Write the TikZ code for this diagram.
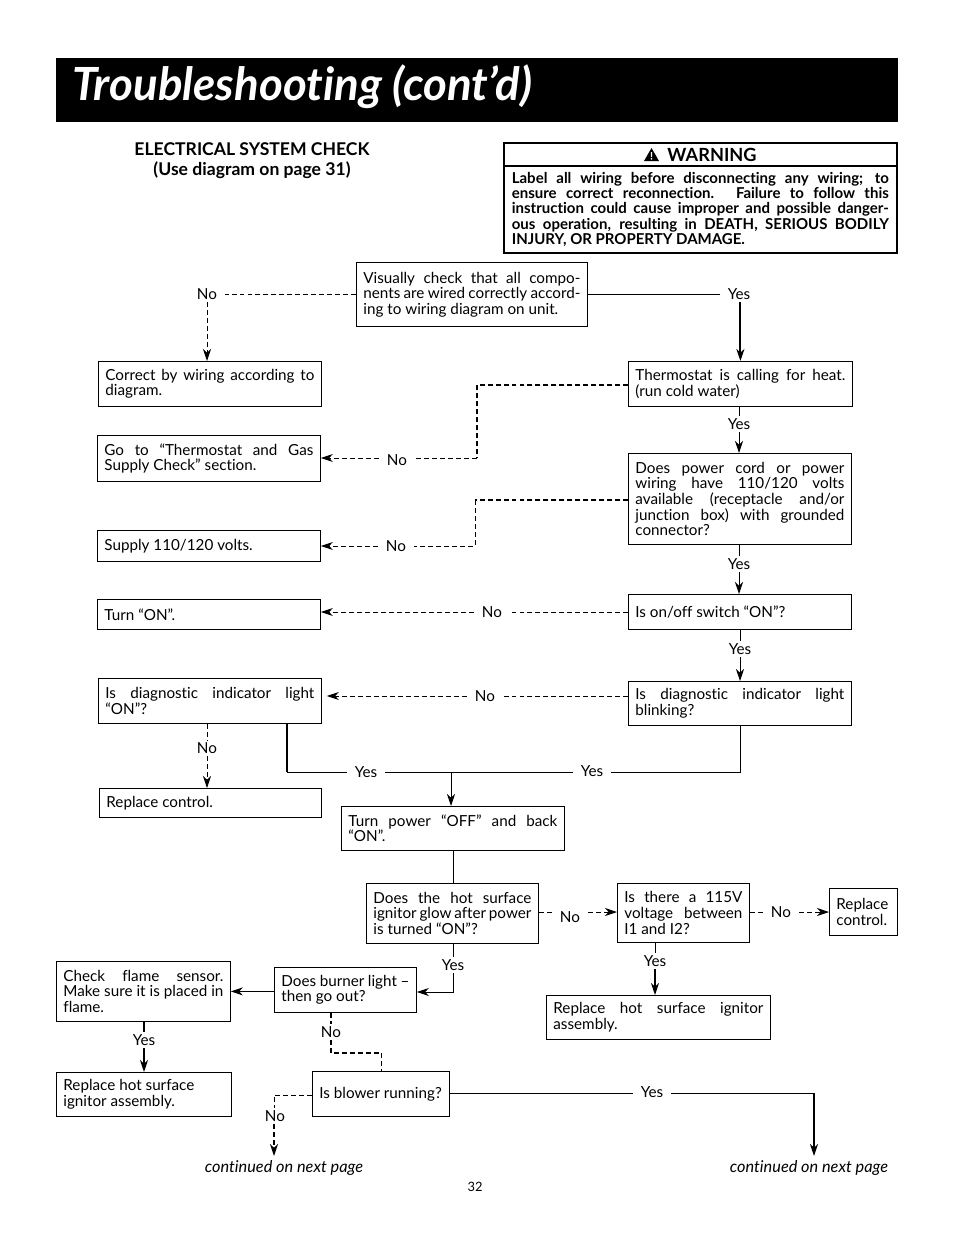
\documentclass[tikz,border=0pt]{standalone}
\usepackage{fontspec}
\setmainfont[Ligatures=NoCommon]{Lato}
\usetikzlibrary{arrows.meta,calc,positioning}
\tikzset{
	flowbox/.style 2 args={draw,line width=0.7pt,anchor=north west,inner xsep=0.21cm,inner ysep=0pt,
		text width=(#1-14)*0.03cm,minimum height=#2*0.03cm,align=justify,font=\fontsize{13}{13.3}\selectfont},
	lab/.style={inner xsep=0.24cm,inner ysep=2pt,font=\fontsize{13}{13.3}\selectfont},
	note/.style={inner sep=0pt,font=\fontsize{13.9}{15}\selectfont\itshape},
	thinline/.style={line width=0.7pt},
	thickline/.style={line width=1.7pt},
	dashline/.style={line width=0.7pt,dash pattern=on 4.2pt off 2.6pt},
	thickdash/.style={line width=1.4pt,dash pattern=on 4.2pt off 2.6pt},
	tip/.style={-{Stealth[length=3.6mm,width=2.4mm,inset=1.1mm]}}
}
\begin{document}
\begin{tikzpicture}[x=0.03cm,y=-0.03cm]
	\useasboundingbox (0,0) rectangle (954,1235);
	% header
	\node (banner) [fill=black,anchor=north west,minimum width=842*0.03cm,minimum height=64*0.03cm,inner sep=0pt] at (56,58) {};
	\node (title) [text=white,anchor=west,inner sep=0pt,font=\fontsize{39}{42}\selectfont\bfseries\itshape] at (72,87) {Troubleshooting (cont’d)};
	\node (heading) [align=center,inner sep=0pt,font=\fontsize{15}{17}\selectfont\bfseries] at (252,160.5) {ELECTRICAL SYSTEM CHECK\\(Use diagram on page 31)};
	% warning
	\node (warnhead) [draw,line width=1.4pt,anchor=north west,minimum width=393*0.03cm,minimum height=23*0.03cm,inner sep=0pt] at (503,142) {};
	\node (warning) [inner sep=0pt,font=\fontsize{15.5}{16}\selectfont\bfseries] at (712,155) {WARNING};
	\fill (644,161) -- (651.5,148) -- (659,161) -- cycle;
	\fill[white] (650.8,152) rectangle (652.2,157) (650.8,158) rectangle (652.2,159.5);
	\node (warnbody) [draw,line width=1.4pt,anchor=north west,text width=377*0.03cm,minimum height=87*0.03cm,inner xsep=0.24cm,inner ysep=0pt,align=justify,font=\fontsize{12.8}{13}\selectfont\bfseries] at (503,165) {Label all wiring before disconnecting any wiring; to\linebreak ensure correct reconnection. Failure to follow this\linebreak instruction could cause improper and possible danger-\linebreak ous operation, resulting in DEATH, SERIOUS BODILY\linebreak INJURY, OR PROPERTY DAMAGE.};
	% boxes
	\node (check) [flowbox={231}{64}] at (356,262) {Visually check that all compo-\linebreak nents are wired correctly accord-\linebreak ing to wiring diagram on unit.};
	\node (correct) [flowbox={223}{45}] at (98,361) {Correct by wiring according to\linebreak diagram.};
	\node (thermostat) [flowbox={224}{45}] at (628,361) {Thermostat is calling for heat.\linebreak (run cold water)};
	\node (gas) [flowbox={223}{46}] at (97,435) {Go to “Thermostat and Gas\linebreak Supply Check” section.};
	\node (power) [flowbox={223}{91}] at (628,453) {Does power cord or power\linebreak wiring have 110/120 volts\linebreak available (receptacle and/or\linebreak junction box) with grounded\linebreak connector?};
	\node (supply) [flowbox={223}{31}] at (97,530) {Supply 110/120 volts.};
	\node (turnon) [flowbox={223}{30}] at (97,599) {Turn “ON”.};
	\node (switch) [flowbox={223}{35}] at (628,594) {Is on/off switch “ON”?};
	\node (indicator) [flowbox={223}{45}] at (98,678) {Is diagnostic indicator light\linebreak “ON”?};
	\node (blinking) [flowbox={223}{44}] at (628,681) {Is diagnostic indicator light\linebreak blinking?};
	\node (replace) [flowbox={222}{29}] at (99,788) {Replace control.};
	\node (turnpower) [flowbox={223}{44}] at (341,806) {Turn power “OFF” and back\linebreak “ON”.};
	\node (glow) [flowbox={172}{60}] at (366,883) {Does the hot surface\linebreak ignitor glow after power\linebreak is turned “ON”?};
	\node (voltage) [flowbox={132}{59}] at (617,883) {Is there a 115V\linebreak voltage between\linebreak I1 and I2?};
	\node (control) [flowbox={68}{47}] at (829,888) {Replace\linebreak control.};
	\node (flame) [flowbox={174}{60}] at (56,961) {Check flame sensor.\linebreak Make sure it is placed in\linebreak flame.};
	\node (burner) [flowbox={142}{45}] at (274,967) {Does burner light –\\then go out?};
	\node (hotsurface) [flowbox={224}{44}] at (546,995) {Replace hot surface ignitor\linebreak assembly.};
	\node (ignitor) [flowbox={175}{44}] at (56,1072) {Replace hot surface\\ignitor assembly.};
	\node (blower) [flowbox={137}{45}] at (312,1071) {Is blower running?};
	% labels
	\node (no1) [lab] at (207,294) {No};
	\node (yes1) [lab] at (739,294) {Yes};
	\node (yes2) [lab] at (739,424) {Yes};
	\node (no2) [lab] at (397,460) {No};
	\node (no3) [lab] at (396,546) {No};
	\node (yes3) [lab] at (739,564) {Yes};
	\node (no4) [lab] at (492,612) {No};
	\node (yes4) [lab] at (740,649) {Yes};
	\node (no5) [lab] at (485,696) {No};
	\node (no6) [lab] at (207,748) {No};
	\node (yes5) [lab] at (366,772) {Yes};
	\node (yes6) [lab] at (592,771) {Yes};
	\node (no7) [lab] at (570,917) {No};
	\node (no8) [lab] at (781,912) {No};
	\node (yes7) [lab] at (453,965) {Yes};
	\node (yes8) [lab] at (655,961) {Yes};
	\node (yes9) [lab] at (144,1040) {Yes};
	\node (no9) [lab] at (331,1032) {No};
	\node (no10) [lab] at (275,1116) {No};
	\node (yes10) [lab] at (652,1092) {Yes};
	\node (next1) [note] at (284,1168) {continued on next page};
	\node (next2) [note] at (809,1168) {continued on next page};
	\node (pagenum) [inner sep=0pt,font=\fontsize{11}{13}\selectfont] at (475,1187) {32};
	% elbows
	\coordinate (bendA) at (477,385);
	\coordinate (bendB) at (477,458);
	\coordinate (bendC) at (475,500);
	\coordinate (bendD) at (475,546);
	\coordinate (joinL) at (287,772);
	\coordinate (joinM) at (451,772);
	\coordinate (joinR) at (740,772);
	\coordinate (arrowV) at (617,912);
	\coordinate (bendE) at (453,992);
	\coordinate (bendF) at (331,1053);
	\coordinate (bendG) at (381,1053);
	\coordinate (bendH) at (274,1095);
	\coordinate (bendI) at (814,1093);
	\coordinate (endL) at (274,1156);
	\coordinate (endR) at (814,1156);
	% top
	\draw[dashline] (check.west |- no1) -- (no1);
	\draw[dashline,tip] (no1) -- (no1 |- correct.north);
	\draw[thinline] (check.east |- yes1) -- (yes1);
	\draw[thickline,tip] (thermostat.north |- yes1.south) -- (thermostat.north);
	% right column
	\draw[thinline] (yes2 |- thermostat.south) -- (yes2);
	\draw[thinline,tip] (yes2) -- (yes2 |- power.north);
	\draw[thinline] (yes3 |- power.south) -- (yes3);
	\draw[thinline,tip] (yes3) -- (yes3 |- switch.north);
	\draw[thinline] (yes4 |- switch.south) -- (yes4);
	\draw[thinline,tip] (yes4) -- (yes4 |- blinking.north);
	% no branches
	\draw[thickdash] (bendA -| thermostat.west) -- (bendA) -- (bendB);
	\draw[dashline] (bendB) -- (no2.east |- bendB);
	\draw[dashline,tip] (no2.west |- bendB) -- (bendB -| gas.east);
	\draw[thickdash] (bendC -| power.west) -- (bendC);
	\draw[dashline] (bendC) -- (bendD) -- (no3);
	\draw[dashline,tip] (no3) -- (supply.east |- no3);
	\draw[dashline] (switch.west |- no4) -- (no4);
	\draw[dashline,tip] (no4) -- (turnon.east |- no4);
	\draw[dashline] (blinking.west |- no5) -- (no5);
	\draw[dashline,tip] (no5) -- ($(indicator.east |- no5)+(5,0)$);
	% lower left
	\draw[dashline] (no6 |- indicator.south) -- (no6);
	\draw[dashline,tip] (no6) -- (no6 |- replace.north);
	\draw[thickline] (joinL |- indicator.south) -- (joinL);
	\draw[thinline] (joinL) -- (yes5);
	\draw[thinline] (yes5) -- (joinM);
	\draw[thinline] (joinR |- blinking.south) -- (joinR) -- (yes6.east |- joinR);
	\draw[thinline] (yes6.west |- joinR) -- (joinM);
	\draw[thinline,tip] (joinM) -- (joinM |- turnpower.north);
	\draw[thinline] (glow.north -| yes7) -- (yes7 |- turnpower.south);
	% bottom
	\draw[dashline] (glow.east |- arrowV) -- (no7.west |- arrowV);
	\draw[dashline,tip] (no7.east |- arrowV) -- (arrowV);
	\draw[dashline] (voltage.east |- no8) -- (no8);
	\draw[dashline,tip] (no8) -- (control.west |- no8);
	\draw[thinline] (yes8 |- voltage.south) -- (yes8);
	\draw[thickline,tip] (yes8) -- (yes8 |- hotsurface.north);
	\draw[thinline] (yes7 |- glow.south) -- (yes7);
	\draw[thinline,tip] (yes7) -- (bendE) -- (burner.east |- bendE);
	\draw[thinline,tip] (burner.west |- flame.east) -- (flame.east);
	\draw[thickline] (yes9 |- flame.south) -- (yes9);
	\draw[thickline,tip] (yes9) -- (yes9 |- ignitor.north);
	\draw[thickdash] (no9 |- burner.south) -- (no9);
	\draw[thickdash] (no9) -- (bendF) -- (bendG);
	\draw[dashline] (bendG) -- (bendG |- blower.north);
	\draw[dashline] (blower.west |- bendH) -- (bendH) -- (bendH |- no10.north);
	\draw[thickdash,tip] (bendH |- no10.south) -- (endL);
	\draw[thinline] (blower.east |- bendI) -- (yes10.west |- bendI);
	\draw[thinline] (yes10.east |- bendI) -- (bendI);
	\draw[thickline,tip] (bendI) -- (endR);
\end{tikzpicture}
\end{document}
